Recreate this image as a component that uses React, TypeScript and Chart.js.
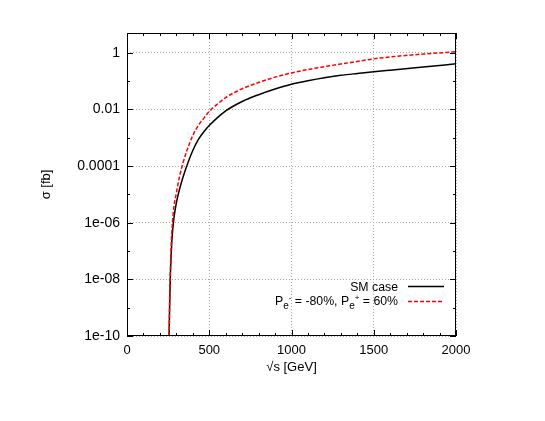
import React, { useEffect, useRef } from 'react';
import { Chart, registerables } from 'chart.js';

Chart.register(...registerables);

// ---- data ----
const energies = [256, 259, 263, 268, 275, 285, 300, 320, 340, 365, 400, 435, 470, 500, 550, 600, 700, 800, 900, 1000, 1100, 1200, 1300, 1400, 1500, 1600, 1800, 2000];
const smCase = [1e-10, 1e-9, 1e-8, 6.31e-8, 3.55e-7, 1.41e-6, 5.01e-6, 1.58e-5, 3.98e-5, 1.07e-4, 3.55e-4, 8.91e-4, 1.7e-3, 2.69e-3, 5.13e-3, 8.91e-3, 0.0191, 0.0331, 0.0525, 0.0776, 0.1035, 0.132, 0.16, 0.186, 0.214, 0.244, 0.316, 0.407];
const polarized = [1e-10, 1.78e-9, 1.58e-8, 1.26e-7, 7.94e-7, 3.55e-6, 1.12e-5, 4.47e-5, 1.26e-4, 3.63e-4, 1.2e-3, 2.82e-3, 5.13e-3, 8.51e-3, 0.0155, 0.0263, 0.0537, 0.0891, 0.138, 0.195, 0.257, 0.324, 0.403, 0.495, 0.61, 0.716, 0.902, 1.084];

const seriesLabels = ['SM case', 'P_e- = -80%, P_e+ = 60%'];
const seriesColors = ['#000000', '#ff0000'];

const xTickValues = [0, 500, 1000, 1500, 2000];
const xTickLabels = ['0', '500', '1000', '1500', '2000'];
const xMinorTicks = [100, 200, 300, 400, 600, 700, 800, 900, 1100, 1200, 1300, 1400, 1600, 1700, 1800, 1900];
const yTickValues = [1e-10, 1e-8, 1e-6, 1e-4, 1e-2, 1];
const yTickLabels = ['1e-10', '1e-08', '1e-06', '0.0001', '0.01', '1'];
const yMinorTicks = [1e-9, 1e-7, 1e-5, 1e-3, 1e-1];

const xTitle = '√s [GeV]';
const yTitle = 'σ [fb]';

type Seg = { text: string; kind: 'n' | 'sub' | 'sup' };
const legendRows: Seg[][] = [
  [{ text: 'SM case', kind: 'n' }],
  [
    { text: 'P', kind: 'n' },
    { text: 'e', kind: 'sub' },
    { text: '-', kind: 'sup' },
    { text: ' = -80%, P', kind: 'n' },
    { text: 'e', kind: 'sub' },
    { text: '+', kind: 'sup' },
    { text: ' = 60%', kind: 'n' },
  ],
];

const FONT = '"Liberation Sans", Arial, Helvetica, sans-serif';

const segStyle: Record<string, { size: number; dy: number }> = {
  n: { size: 12.3, dy: 0 },
  sub: { size: 10, dy: 3.5 },
  sup: { size: 8, dy: -5 },
};

const gnuplotPlugin = {
  id: 'gnuplotFrame',
  afterDraw(chart: any) {
    const { ctx, chartArea, scales } = chart;
    const { left, right, top, bottom } = chartArea;
    const x = scales.x;
    const y = scales.y;
    ctx.save();
    ctx.strokeStyle = '#000';
    ctx.lineWidth = 1;
    ctx.setLineDash([]);
    const vTick = (v: number, len: number) => {
      const px = Math.round(x.getPixelForValue(v)) + 0.5;
      ctx.beginPath();
      ctx.moveTo(px, bottom);
      ctx.lineTo(px, bottom - len);
      ctx.moveTo(px, top);
      ctx.lineTo(px, top + len);
      ctx.stroke();
    };
    const hTick = (v: number, len: number) => {
      const py = Math.round(y.getPixelForValue(v)) + 0.5;
      ctx.beginPath();
      ctx.moveTo(left, py);
      ctx.lineTo(left + len, py);
      ctx.moveTo(right, py);
      ctx.lineTo(right - len, py);
      ctx.stroke();
    };
    xTickValues.forEach((v) => vTick(v, 6));
    xMinorTicks.forEach((v) => vTick(v, 3));
    yTickValues.forEach((v) => hTick(v, 6));
    yMinorTicks.forEach((v) => hTick(v, 3));
    ctx.strokeRect(left + 0.5, top + 0.5, right - left - 1, bottom - top - 1);

    // legend (gnuplot style, inside plot, bottom right)
    const textRight = 398;
    const sampleX0 = 408;
    const sampleX1 = 444;
    const baselines = [290.5, 305];
    const sampleYs = [286.5, 301.5];
    ctx.textBaseline = 'alphabetic';
    ctx.textAlign = 'left';
    ctx.fillStyle = '#000';
    legendRows.forEach((row, i) => {
      let total = 0;
      row.forEach((s) => {
        ctx.font = `${segStyle[s.kind].size}px ${FONT}`;
        total += ctx.measureText(s.text).width;
      });
      let cx = textRight - total;
      row.forEach((s) => {
        ctx.font = `${segStyle[s.kind].size}px ${FONT}`;
        ctx.fillText(s.text, cx, baselines[i] + segStyle[s.kind].dy);
        cx += ctx.measureText(s.text).width;
      });
      ctx.beginPath();
      ctx.strokeStyle = seriesColors[i];
      ctx.lineWidth = 1.5;
      ctx.setLineDash(i === 0 ? [] : [4, 2]);
      ctx.moveTo(sampleX0, sampleYs[i]);
      ctx.lineTo(sampleX1, sampleYs[i]);
      ctx.stroke();
    });
    ctx.restore();
  },
};

export default function App() {
  const ref = useRef<HTMLCanvasElement>(null);
  useEffect(() => {
    const canvas = ref.current;
    if (!canvas) return;
    const xFont = { family: FONT, size: 13 };
    const yFont = { family: FONT, size: 14 };
    const chart = new Chart(canvas, {
      type: 'line',
      data: {
        datasets: [
          {
            label: seriesLabels[0],
            data: energies.map((e, i) => ({ x: e, y: smCase[i] })),
            borderColor: seriesColors[0],
            borderWidth: 1.5,
            pointRadius: 0,
            fill: false,
            cubicInterpolationMode: 'monotone',
            order: 2,
          },
          {
            label: seriesLabels[1],
            data: energies.map((e, i) => ({ x: e, y: polarized[i] })),
            borderColor: seriesColors[1],
            borderWidth: 1.5,
            borderDash: [4, 2],
            pointRadius: 0,
            fill: false,
            cubicInterpolationMode: 'monotone',
            order: 1,
          },
        ],
      },
      options: {
        animation: false,
        responsive: false,
        devicePixelRatio: 1,
        layout: { padding: { left: 0, top: 33, right: 89, bottom: 0 } },
        plugins: { legend: { display: false }, tooltip: { enabled: false } },
        scales: {
          x: {
            type: 'linear',
            min: 0,
            max: 2000,
            afterBuildTicks: (s: any) => {
              s.ticks = xTickValues.map((v) => ({ value: v }));
            },
            afterFit: (s: any) => {
              s.height = 85;
            },
            ticks: {
              font: xFont,
              color: '#000',
              padding: 7,
              maxRotation: 0,
              autoSkip: false,
              callback: (_v: any, i: number) => xTickLabels[i],
            },
            grid: { color: '#a8a8a8', lineWidth: 1, drawTicks: false },
            border: { display: false, dash: [1, 2] },
            title: {
              display: true,
              text: xTitle,
              font: xFont,
              color: '#000',
              padding: { top: 0, bottom: 46 },
            },
          },
          y: {
            type: 'logarithmic',
            min: 1e-10,
            max: 5,
            afterBuildTicks: (s: any) => {
              s.ticks = yTickValues.map((v) => ({ value: v }));
            },
            afterFit: (s: any) => {
              s.width = 127;
            },
            ticks: {
              font: yFont,
              color: '#000',
              padding: 7,
              autoSkip: false,
              callback: (_v: any, i: number) => yTickLabels[i],
            },
            grid: { color: '#a8a8a8', lineWidth: 1, drawTicks: false },
            border: { display: false, dash: [1, 2] },
            title: {
              display: true,
              text: yTitle,
              font: xFont,
              color: '#000',
              padding: { top: 39, bottom: 0 },
            },
          },
        },
      } as any,
      plugins: [gnuplotPlugin],
    });
    return () => chart.destroy();
  }, []);
  return (
    <div style={{ position: 'absolute', left: 0, top: 0, width: 545, height: 421, background: '#fff' }}>
      <canvas ref={ref} width={545} height={421} style={{ width: 545, height: 421, display: 'block' }} />
    </div>
  );
}
